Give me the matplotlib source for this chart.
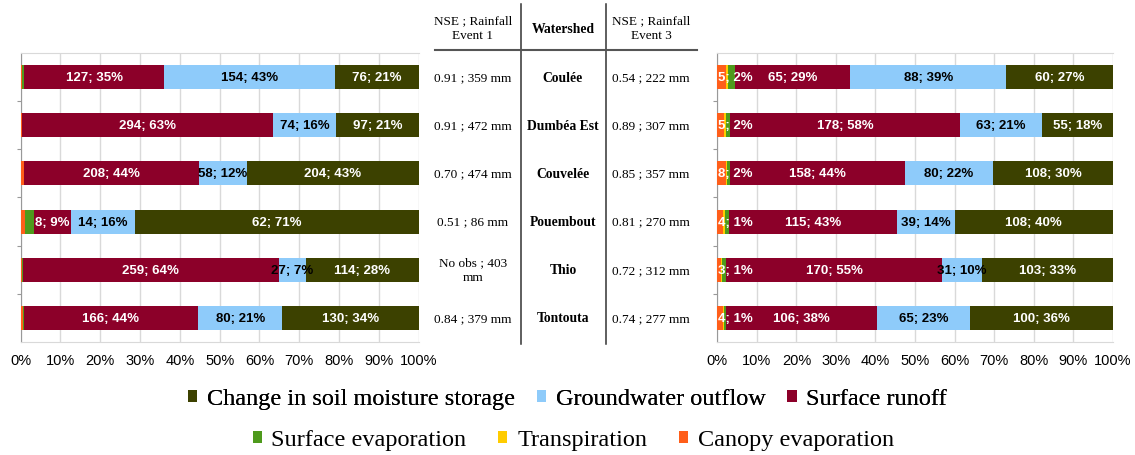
#! /usr/bin/env python3
import numpy as np
import matplotlib.pyplot as plt
from matplotlib.patches import Patch
from matplotlib.lines import Line2D
import matplotlib.transforms as mtransforms

watersheds = ['Coulée', 'Dumbéa Est', 'Couvelée', 'Pouembout', 'Thio', 'Tontouta']
components = ['Canopy evaporation', 'Transpiration', 'Surface evaporation',
              'Surface runoff', 'Groundwater outflow', 'Change in soil moisture storage']
colors = ['#ff5e1a', '#ffcc00', '#4e9a1c', '#8c0029', '#8ecbfa', '#3c4100']
text_colors = ['white', 'white', 'white', 'white', 'black', 'white']

# Event 1 water balance (mm)
ev1_canopy = [1, 2, 4, 1, 1, 2]
ev1_transp = [0, 0, 0, 0, 0, 0]
ev1_surfevap = [2, 0, 0, 2, 1, 1]
ev1_runoff = [127, 294, 208, 8, 259, 166]
ev1_gw = [154, 74, 58, 14, 27, 80]
ev1_storage = [76, 97, 204, 62, 114, 130]

# Event 3 water balance (mm)
ev3_canopy = [5, 5, 8, 4, 3, 4]
ev3_transp = [1, 2, 1, 1, 1, 1]
ev3_surfevap = [4, 3, 2, 3, 3, 1]
ev3_runoff = [65, 178, 158, 115, 170, 106]
ev3_gw = [88, 63, 80, 39, 31, 65]
ev3_storage = [60, 55, 108, 108, 103, 100]

nse1 = ['0.91 ; 359 mm', '0.91 ; 472 mm', '0.70 ; 474 mm', '0.51 ; 86 mm',
        'No obs ; 403\nmm', '0.84 ; 379 mm']
nse3 = ['0.54 ; 222 mm', '0.89 ; 307 mm', '0.85 ; 357 mm', '0.81 ; 270 mm',
        '0.72 ; 312 mm', '0.74 ; 277 mm']
xticklabels = ['0%', '10%', '20%', '30%', '40%', '50%', '60%', '70%', '80%', '90%', '100%']

ev1 = np.array([ev1_canopy, ev1_transp, ev1_surfevap, ev1_runoff, ev1_gw, ev1_storage], dtype=float)
ev3 = np.array([ev3_canopy, ev3_transp, ev3_surfevap, ev3_runoff, ev3_gw, ev3_storage], dtype=float)

fig = plt.figure(figsize=(11.35, 4.56), dpi=100)
ax1 = fig.add_axes([0.0182, 0.2478, 0.3507, 0.6338])
ax2 = fig.add_axes([0.6320, 0.2478, 0.3484, 0.6338])

label_font = dict(family='Liberation Sans', fontweight='bold', fontsize=9.5)


def draw_stack(ax, data, label_canopy):
    y = np.arange(len(watersheds))
    tot = data.sum(axis=0)
    pct = data / tot * 100
    left = np.zeros(len(watersheds))
    for k in range(len(components)):
        ax.barh(y, pct[k], left=left, height=0.5, color=colors[k], zorder=3)
        for i in range(len(watersheds)):
            v = data[k, i]
            lab = '%g; %d%%' % (v, round(pct[k, i]))
            if k >= 3:
                ax.text(left[i] + pct[k, i] / 2, y[i], lab, ha='center', va='center',
                        color=text_colors[k], zorder=5, **label_font)
            elif k == 0 and label_canopy:
                ax.text(left[i] + 0.1, y[i], lab, ha='left', va='center',
                        color='white', zorder=5, **label_font)
        left += pct[k]
    ax.set_xlim(0, 100)
    ax.set_ylim(5.5, -0.5)
    ax.set_xticks(np.arange(0, 101, 10))
    ax.set_xticklabels(xticklabels, family='Liberation Sans', fontsize=10.5)
    ax.set_yticks(np.arange(0.5, 5.0, 1.0))
    ax.set_yticklabels([])
    ax.tick_params(axis='x', length=0, pad=8)
    ax.tick_params(axis='y', length=3, color='#999999', direction='out')
    ax.grid(axis='x', color='#d9d9d9', linewidth=1, zorder=0)
    ax.set_axisbelow(True)
    ax.spines['left'].set_color('#999999')
    ax.spines['top'].set_color('#d9d9d9')
    ax.spines['bottom'].set_color('#d9d9d9')
    ax.spines['right'].set_visible(False)


draw_stack(ax1, ev1, False)
draw_stack(ax2, ev3, True)

# middle table
trans = mtransforms.blended_transform_factory(fig.transFigure, ax1.transData)
serif = 'Liberation Serif'
for i in range(len(watersheds)):
    fig.text(0.4167, i, nse1[i], transform=trans, ha='center', va='center',
             family=serif, fontsize=9.5, linespacing=1.3)
    fig.text(0.4960, i, watersheds[i], transform=trans, ha='center', va='center',
             family=serif, fontsize=9.8, fontweight='bold')
    fig.text(0.5736, i, nse3[i], transform=trans, ha='center', va='center',
             family=serif, fontsize=9.5)

fig.text(0.4167, 0.937, 'NSE ; Rainfall\nEvent 1', ha='center', va='center',
         family=serif, fontsize=9.5, linespacing=1.3)
fig.text(0.4960, 0.936, 'Watershed', ha='center', va='center',
         family=serif, fontsize=9.8, fontweight='bold')
fig.text(0.5736, 0.937, 'NSE ; Rainfall\nEvent 3', ha='center', va='center',
         family=serif, fontsize=9.5, linespacing=1.3)

fig.add_artist(Line2D([0.4588, 0.4588], [0.989, 0.2434], color='#333333', lw=1.1))
fig.add_artist(Line2D([0.5337, 0.5337], [0.989, 0.2434], color='#333333', lw=1.1))
fig.add_artist(Line2D([0.3833, 0.6141], [0.8888, 0.8888], color='#555555', lw=1.5))

# legends
h = [Patch(facecolor=c) for c in colors]
leg1 = fig.legend([h[5], h[4], h[3]], [components[5], components[4], components[3]],
                  loc='center', bbox_to_anchor=(0.5, 0.123), ncol=3, frameon=False,
                  prop={'family': serif, 'size': 17.5}, handlelength=0.38, handleheight=0.38,
                  handletextpad=0.4, columnspacing=0.9)
fig.add_artist(leg1)
fig.legend([h[2], h[1], h[0]], [components[2], components[1], components[0]],
           loc='center', bbox_to_anchor=(0.505, 0.033), ncol=3, frameon=False,
           prop={'family': serif, 'size': 17.5}, handlelength=0.38, handleheight=0.38,
           handletextpad=0.4, columnspacing=1.3)

fig.savefig('out.png', dpi=100)
